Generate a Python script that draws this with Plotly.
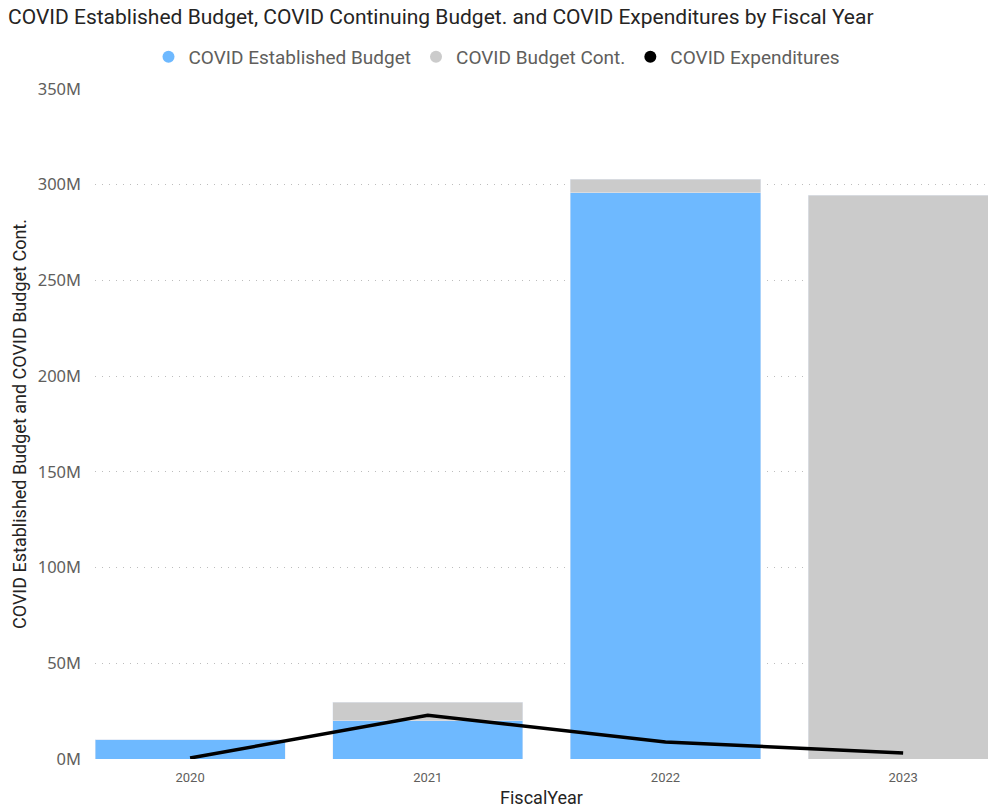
import plotly.graph_objects as go

years = ["2020", "2021", "2022", "2023"]
established = [10.1e6, 20.1e6, 295.7e6, 0]
continuing = [0, 9.5e6, 7.2e6, 294.4e6]
expenditures = [0.5e6, 22.8e6, 8.9e6, 3.1e6]
y_ticks = [0, 50e6, 100e6, 150e6, 200e6, 250e6, 300e6, 350e6]
y_tick_labels = ["0M", "50M", "100M", "150M", "200M", "250M", "300M", "350M"]

BLUE = "#6EB9FF"
GREY = "#CBCBCB"
BLACK = "#000000"
TXT = "#605E5C"
DARK = "#252423"

W, H = 988, 808
L, R, T, B = 95, 0, 89, 49

fig = go.Figure()
fig.add_trace(go.Bar(x=years, y=established, name="COVID Established Budget",
                     marker_color=BLUE, showlegend=False, width=0.8))
fig.add_trace(go.Bar(x=years, y=continuing, name="COVID Budget Cont.",
                     marker_color=GREY, showlegend=False, width=0.8))
fig.add_trace(go.Scatter(x=years, y=expenditures, name="COVID Expenditures",
                         mode="lines", line=dict(color=BLACK, width=3.5), showlegend=False))
for nm, c in [("COVID Established Budget", BLUE), ("COVID Budget Cont.", GREY), ("COVID Expenditures", BLACK)]:
    fig.add_trace(go.Scatter(x=[None], y=[None], mode="markers", name=nm,
                             marker=dict(symbol="circle", size=12, color=c)))

plot_w = W - L - R
plot_h = H - T - B

fig.update_layout(
    width=W, height=H,
    barmode="stack", bargap=0.2,
    plot_bgcolor="white", paper_bgcolor="white",
    margin=dict(l=L, r=R, t=T, b=B, autoexpand=False),
    font=dict(family="Noto Sans, sans-serif", color=TXT),
    title=dict(text="COVID Established Budget, COVID Continuing Budget. and COVID Expenditures by Fiscal Year",
               xref="container", yref="container", x=8/W, xanchor="left",
               y=1 - 17/H, yanchor="middle",
               font=dict(family="Roboto, sans-serif", size=21, color=DARK)),
    legend=dict(orientation="h", traceorder="normal",
                x=(497 - L)/plot_w, xanchor="center", y=1 + 32/plot_h, yanchor="middle",
                font=dict(family="Roboto, sans-serif", size=19, color=TXT),
                itemwidth=30, tracegroupgap=0),
    xaxis=dict(type="category", range=[-0.4, 3.357], showgrid=False, showline=False, zeroline=False,
               ticks="", tickfont=dict(family="Roboto, sans-serif", size=13, color=TXT), ticklabelstandoff=9,
               title=dict(text="FiscalYear", font=dict(family="Roboto, sans-serif", size=18, color=DARK), standoff=7)),
    yaxis=dict(range=[0, 350e6], tickvals=y_ticks, ticktext=y_tick_labels,
               showgrid=True, gridcolor="#BDBDBD", griddash="1px,6px", gridwidth=1,
               zeroline=False, showline=False, ticks="",
               tickfont=dict(size=16.5, color=TXT), ticklabelstandoff=13,
               title=dict(text="COVID Established Budget and COVID Budget Cont.",
                          font=dict(family="Roboto, sans-serif", size=18, color=DARK), standoff=6)),
)

fig.write_html("out.html", config={"displayModeBar": False},
               post_script="document.body.style.margin='0';document.body.style.overflow='hidden';")
